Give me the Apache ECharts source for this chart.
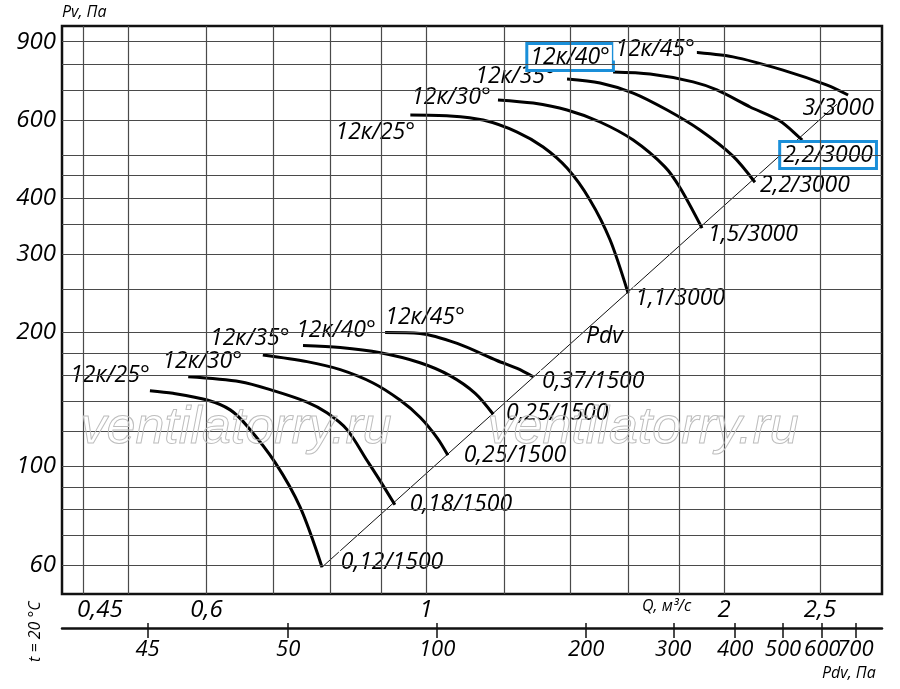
<!DOCTYPE html>
<html>
<head>
<meta charset="utf-8">
<script src="https://cdn.jsdelivr.net/npm/echarts@6/dist/echarts.min.js"></script>
<style>
  html, body { margin: 0; padding: 0; background: #fff; }
  #chart { width: 900px; height: 689px; }
</style>
</head>
<body>
<div id="chart"></div>
<script>
// grid lines and tick labels (Q in m3/s, Pv and Pdv in Pa)
const qGrid = [0.45, 0.5, 0.6, 0.7, 0.8, 0.9, 1, 1.2, 1.4, 1.6, 1.8, 2, 2.5];
const pvGrid = [900, 800, 700, 600, 500, 450, 400, 350, 300, 250, 200, 180, 160, 140, 120, 100, 90, 80, 70, 60];
const qTicks = [0.45, 0.6, 1, 2, 2.5];
const pvTicks = [900, 600, 400, 300, 200, 100, 60];
const pdvTicks = [26, 50, 100, 200, 300, 400, 500, 600, 700];
const pdvTickText = ['45', '50', '100', '200', '300', '400', '500', '600', '700'];

// curve names and motor labels
const bladeNames = ['12к/25°', '12к/30°', '12к/35°', '12к/40°', '12к/45°'];
const motors1500 = ['0,12/1500', '0,18/1500', '0,25/1500', '0,25/1500', '0,37/1500'];
const motors3000 = ['1,1/3000', '1,5/3000', '2,2/3000', '2,2/3000', '3/3000'];

// 1500 rpm curves [Q, Pv]
const low25 = [[0.526, 148], [0.555, 146], [0.601, 141], [0.634, 134], [0.660, 123], [0.704, 102], [0.746, 81], [0.785, 59.4]];
const low30 = [[0.575, 159], [0.649, 155], [0.701, 148], [0.758, 139.5], [0.794, 132], [0.832, 121], [0.872, 103], [0.899, 92.7], [0.930, 82]];
const low35 = [[0.684, 178], [0.758, 172], [0.819, 165], [0.884, 154], [0.941, 141], [0.986, 129], [1.026, 116], [1.052, 106]];
const low40 = [[0.751, 187], [0.819, 185], [0.899, 180], [0.986, 171], [1.057, 160], [1.121, 146], [1.169, 131]];
const low45 = [[0.909, 200], [0.986, 199], [1.075, 189], [1.179, 173], [1.236, 166], [1.283, 159]];

// 3000 rpm curves [Q, Pv]
const high25 = [[0.964, 616], [1.057, 613], [1.142, 600], [1.236, 564], [1.313, 522], [1.388, 468], [1.464, 397], [1.534, 323], [1.600, 245]];
const high30 = [[1.182, 666], [1.283, 655], [1.388, 632], [1.499, 594], [1.619, 541], [1.743, 471], [1.806, 422], [1.900, 343]];
const high35 = [[1.388, 742], [1.499, 727], [1.619, 690], [1.752, 632], [1.891, 570], [2.042, 498], [2.149, 435]];
const high40 = [[1.545, 769], [1.684, 761], [1.861, 731], [1.967, 701], [2.125, 642], [2.278, 597], [2.398, 541]];
const high45 = [[1.848, 853], [2.042, 832], [2.294, 777], [2.542, 719], [2.669, 683]];

// Pdv line through the curve ends
const pdvLine = [[0.785, 59.4], [2.60, 651]];

const lowCurves = [low25, low30, low35, low40, low45];
const highCurves = [high25, high30, high35, high40, high45];

// label placement (pixels from the curve point)
const lowNameOff = [[-40, -15], [14, -15], [-13, -17], [33, -15], [40, -15]];
const highNameOff = [[-35, 17], [-47, -2], [-52, -3], [-43, -15], [-35, -3]];
const lowMotorOff = [[70, -5], [66, 0], [67, 0], [64, -1], [60, 5]];
const highMotorOff = [[52, 5], [51, 6], [50, 3], [26, 15], [-10, 13]];

const FONT = 'Open Sans';
const BLUE = '#1a8fd9';

function comma(v) { return String(v).replace('.', ','); }

function lbl(text, off, boxed, noBg) {
  let l = {
    show: true,
    position: 'inside',
    align: 'center',
    verticalAlign: 'middle',
    offset: off,
    formatter: text,
    fontFamily: FONT,
    fontStyle: 'italic',
    fontSize: 23,
    color: '#000',
    opacity: 1,
    backgroundColor: noBg ? 'transparent' : '#fff',
    padding: [0, 2, 0, 2]
  };
  if (boxed) {
    l.borderColor = BLUE;
    l.borderWidth = 3;
    l.padding = [1, 2, 0, 2];
  }
  return l;
}

let labelData = [];
for (let i = 0; i < 5; i++) {
  let lc = lowCurves[i], hc = highCurves[i];
  labelData.push({ value: lc[0], label: lbl(bladeNames[i], lowNameOff[i], false) });
  labelData.push({ value: lc[lc.length - 1], label: lbl(motors1500[i], lowMotorOff[i], false) });
  labelData.push({ value: hc[0], label: lbl(bladeNames[i], highNameOff[i], i === 3) });
  labelData.push({ value: hc[hc.length - 1], label: lbl(motors3000[i], highMotorOff[i], i === 3, i === 4) });
}

let curveSeries = lowCurves.concat(highCurves).map(function (c) {
  return {
    type: 'line',
    data: c,
    smooth: 0.3,
    showSymbol: false,
    z: 3,
    lineStyle: { color: '#000', width: 3 },
    silent: true
  };
});

let gridMarks = [];
qGrid.forEach(function (v) { gridMarks.push({ xAxis: v }); });
pvGrid.forEach(function (v) { gridMarks.push({ yAxis: v }); });

let chart = echarts.init(document.getElementById('chart'));

let qMin = 0.4287, qMax = 2.888;
// Pdv = k * Q^2; the Pdv scale is a linear axis over log10(Q)
let kPdv = 95;
let pdvPos = pdvTicks.map(function (p) { return Math.log10(Math.sqrt(p / kPdv)); });
// neighbouring labels go on two axes so that none of them is dropped for overlap
let pdvPosEven = pdvPos.filter(function (v, i) { return i % 2 === 0; });
let pdvPosOdd = pdvPos.filter(function (v, i) { return i % 2 === 1; });

function pdvText(v) {
  for (let i = 0; i < pdvPos.length; i++) {
    if (Math.abs(pdvPos[i] - v) < 1e-6) return pdvTickText[i];
  }
  return '';
}

let pdvLabelStyle = {
  interval: 0,
  hideOverlap: false,
  showMinLabel: true, showMaxLabel: true,
  margin: 11,
  fontFamily: FONT, fontStyle: 'italic', fontSize: 22, color: '#000',
  formatter: pdvText
};

let pdvAxisBase = {
  type: 'value',
  min: Math.log10(qMin), max: Math.log10(qMax),
  position: 'bottom', offset: 34,
  splitLine: { show: false }
};

let option = {
  animation: false,
  backgroundColor: '#fff',
  grid: {
    left: 62, right: 18, top: 26, bottom: 95,
    show: true,
    borderColor: '#111',
    borderWidth: 2.5,
    backgroundColor: '#fff'
  },
  xAxis: [
    {
      type: 'log', min: qMin, max: qMax,
      position: 'bottom',
      axisLine: { show: false },
      axisTick: { show: false },
      splitLine: { show: false },
      axisLabel: {
        customValues: qTicks,
        interval: 0,
        margin: 4,
        showMinLabel: true, showMaxLabel: true,
        fontFamily: FONT, fontStyle: 'italic', fontSize: 24, color: '#000',
        formatter: function (v) {
          if (Math.abs(v - 0.45) < 1e-6) return '{a|0,45}';
          return comma(Math.round(v * 100) / 100);
        },
        rich: { a: { padding: [0, 0, 0, 34], fontFamily: FONT, fontStyle: 'italic', fontSize: 24, color: '#000' } }
      }
    },
    Object.assign({}, pdvAxisBase, {
      axisLine: { show: true, onZero: false, lineStyle: { color: '#111', width: 2.5 } },
      axisTick: { show: true, interval: 0, customValues: pdvPos, length: 10, lineStyle: { color: '#111', width: 1.5 } },
      axisLabel: Object.assign({ customValues: pdvPosEven }, pdvLabelStyle)
    }),
    Object.assign({}, pdvAxisBase, {
      axisLine: { show: false, onZero: false },
      axisTick: { show: true, interval: 0, inside: true, customValues: pdvPos, length: 5, lineStyle: { color: '#111', width: 1.5 } },
      axisLabel: Object.assign({ customValues: pdvPosOdd }, pdvLabelStyle)
    })
  ],
  yAxis: {
    type: 'log', min: 51.7, max: 976,
    axisLine: { show: false },
    axisTick: { show: false },
    splitLine: { show: false },
    axisLabel: {
      customValues: pvTicks,
      interval: 0,
      margin: 6,
      showMinLabel: true, showMaxLabel: true,
      fontFamily: FONT, fontStyle: 'italic', fontSize: 24, color: '#000'
    }
  },
  series: [
    {
      type: 'line',
      data: pdvLine,
      showSymbol: false,
      z: 2,
      silent: true,
      lineStyle: { color: '#111', width: 1 },
      markLine: {
        silent: true,
        symbol: ['none', 'none'],
        label: { show: false },
        lineStyle: { color: '#4a4a4a', width: 1.2, type: 'solid' },
        emphasis: { disabled: true },
        data: gridMarks
      }
    }
  ].concat(curveSeries).concat([
    {
      type: 'scatter',
      data: labelData,
      symbolSize: 1,
      itemStyle: { color: 'rgba(0,0,0,0)', opacity: 1 },
      z: 4,
      silent: true
    }
  ]),
  graphic: [
    { type: 'text', left: 62, top: 4, style: { text: 'Pv, Па', font: 'italic 16px "Open Sans"', fill: '#000' } },
    { type: 'text', left: 642, top: 598, style: { text: 'Q, м³/с', font: 'italic 16px "Open Sans"', fill: '#000' } },
    { type: 'text', left: 822, top: 665, style: { text: 'Pdv, Па', font: 'italic 16px "Open Sans"', fill: '#000' } },
    { type: 'text', left: 586, top: 325, z: 10, style: { text: 'Pdv', font: 'italic 23px "Open Sans"', fill: '#000' } },
    { type: 'text', x: 27, y: 662, rotation: Math.PI / 2, style: { text: 't = 20 °C', font: 'italic 16px "Open Sans"', fill: '#000' } },
    { type: 'text', left: 80, top: 402, z: 20, silent: true, style: { text: 'ventilatorry.ru', font: 'italic 300 52px "Liberation Sans"', fill: 'rgba(255,255,255,0)', stroke: '#bdbdbd', lineWidth: 1 } },
    { type: 'text', left: 487, top: 402, z: 20, silent: true, style: { text: 'ventilatorry.ru', font: 'italic 300 52px "Liberation Sans"', fill: 'rgba(255,255,255,0)', stroke: '#bdbdbd', lineWidth: 1 } }
  ]
};
chart.setOption(option);
</script>
</body>
</html>
